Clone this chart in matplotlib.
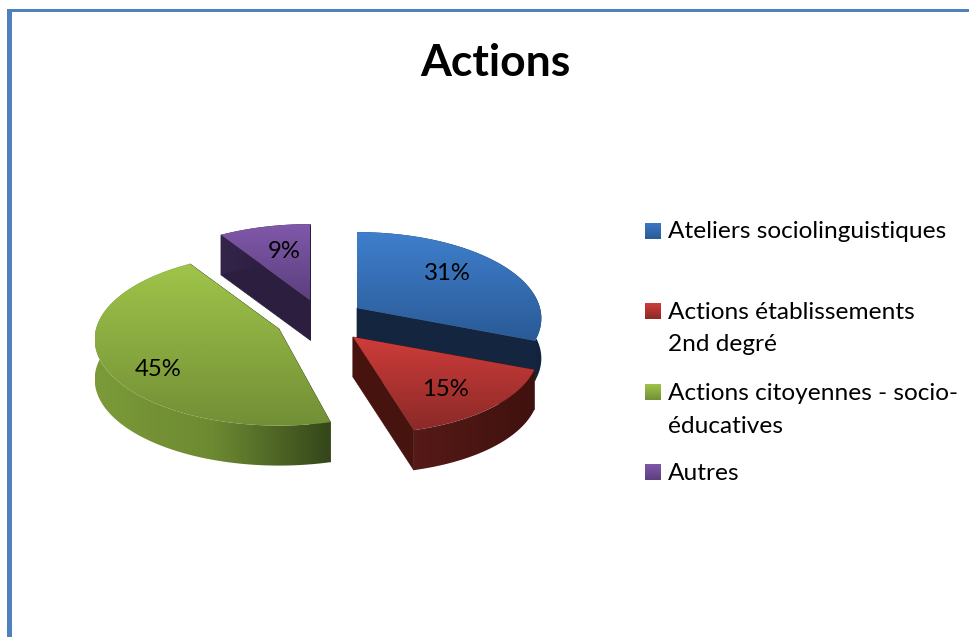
import numpy as np
import matplotlib
matplotlib.use("Agg")
import matplotlib.pyplot as plt
from matplotlib.colors import LinearSegmentedColormap
from matplotlib.patches import Polygon, Rectangle

plt.rcParams['font.family'] = ['Lato', 'DejaVu Sans']

# data
title = "Actions"
labels = ["Ateliers sociolinguistiques", "Actions établissements\n2nd degré",
          "Actions citoyennes - socio-\néducatives", "Autres"]
values = [31, 15, 45, 9]

# styles and layout, in pixels
centers = [(357, 308), (353, 337), (279, 329), (310, 300)]
shears = [0, 0.1, 0, 0]
top_colors = [("#3f7fcd", "#2a5a96"), ("#cf3c3a", "#8a2a28"),
              ("#a0c44a", "#728f36"), ("#8059aa", "#5c3f7e")]
wall_colors = [("#1b3557", "#12233c"), ("#561a17", "#3f110e"),
               ("#7b9a38", "#6d8a32", "#34461a"), ("#33244a", "#271a38")]
radial_wall = ["#14263f", "#47130f", "#34461a", "#2b1e3e"]
label_pos = [(447, 274), (445, 390), (158, 369), (284, 251)]
legend_baselines = [[238], [319, 351], [400, 433], [480]]
legend_boxes = [223, 303, 384, 464]
legend_cols = [("#3a78c4", "#2a5a96"), ("#cf3c3a", "#8a2a28"),
               ("#a0c44a", "#728f36"), ("#8059aa", "#5c3f7e")]

rx, ry, persp, depth = 183, 85, 0.12, 40


def project(center, angle, shear):
    # clockwise from the top, front of the disc is drawn a bit larger
    u, v = np.sin(angle), -np.cos(angle)
    s = 1 / (1 - persp * v)
    dy = ry * v * s
    return np.column_stack([center[0] + rx * u * s + shear * dy, center[1] + dy])


def lower(pts):
    out = np.array(pts, dtype=float)
    out[:, 1] += depth
    return out


def gradient(ax, poly, colors, horizontal=False, zorder=2):
    cmap = LinearSegmentedColormap.from_list("g", colors)
    g = np.linspace(0, 1, 256)
    g = g.reshape(1, -1) if horizontal else g.reshape(-1, 1)
    x0, y0 = poly.min(axis=0)
    x1, y1 = poly.max(axis=0)
    patch = Polygon(poly, closed=True, transform=ax.transData, fc="none", ec="none")
    ax.add_patch(patch)
    im = ax.imshow(g, cmap=cmap, extent=(x0, x1, y1, y0), aspect="auto", zorder=zorder, interpolation="bilinear")
    im.set_clip_path(patch)


fig = plt.figure(figsize=(9.7, 6.37), dpi=100)
ax = fig.add_axes([0, 0, 1, 1])

# page frame
ax.add_patch(Rectangle((7, 9), 5, 628, fc="#4f81bd", ec="none"))
ax.add_patch(Rectangle((7, 9), 963, 3, fc="#4f81bd", ec="none"))

fracs = np.array(values) / sum(values)
edges = np.concatenate([[0], np.cumsum(fracs)]) * 2 * np.pi

# back to front so the nearer slices cover the others
for z, i in enumerate([3, 0, 1, 2]):
    c = centers[i]
    arc = project(c, np.linspace(edges[i], edges[i + 1], 120), shears[i])
    arc_low = lower(arc)
    apex = np.array([c], dtype=float)
    apex_low = lower(apex)
    for end in (arc[:1], arc[-1:]):
        wall = np.vstack([apex, end, lower(end), apex_low])
        ax.add_patch(Polygon(wall, closed=True, fc=radial_wall[i], ec=radial_wall[i], lw=0.5, zorder=2 + z))
    outer = np.vstack([arc, arc_low[::-1]])
    gradient(ax, outer, wall_colors[i], horizontal=True, zorder=2 + z)
    top = np.vstack([apex, arc])
    gradient(ax, top, top_colors[i], zorder=2 + z)

for i, v in enumerate(values):
    ax.text(label_pos[i][0], label_pos[i][1], f"{v}%", fontsize=17.2, color="black",
            ha="center", va="center", zorder=10)

ax.text(495, 63, title, fontsize=32, fontweight="bold", ha="center", va="center", color="black")

# legend
for lab, base, box, col in zip(labels, legend_baselines, legend_boxes, legend_cols):
    gradient(ax, np.array([[645, box], [661, box], [661, box + 16], [645, box + 16]], dtype=float), col, zorder=8)
    for line, y in zip(lab.split("\n"), base):
        ax.text(668, y, line, fontsize=17.6, ha="left", va="baseline", color="black")

ax.set_xlim(0, 970)
ax.set_ylim(637, 0)
ax.axis("off")
fig.savefig("out.png", dpi=100)
